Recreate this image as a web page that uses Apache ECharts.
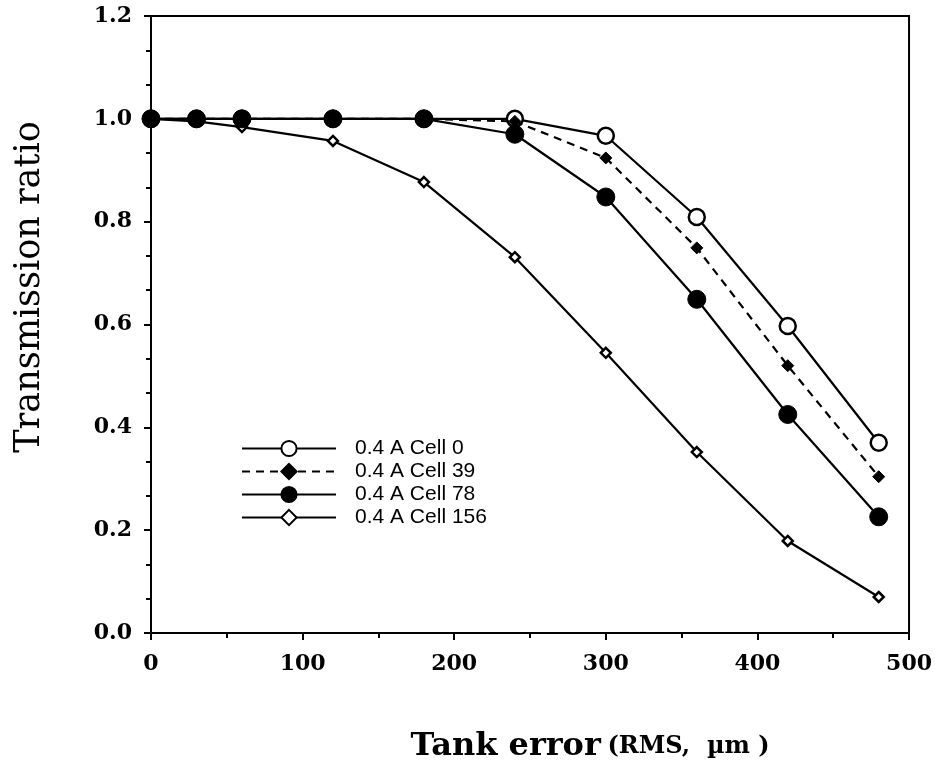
<!DOCTYPE html>
<html>
<head>
<meta charset="utf-8">
<script src="https://cdn.jsdelivr.net/npm/echarts@6/dist/echarts.min.js"></script>
<style>
  html, body { margin: 0; padding: 0; background: #fff; }
  #chart { width: 935px; height: 768px; }
</style>
</head>
<body>
<div id="chart"></div>
<script>
// tank error (RMS, um)
var tankError = [0, 30, 60, 120, 180, 240, 300, 360, 420, 480];
// transmission ratio per cell
var cell0 = [1.0, 1.0, 1.0, 1.0, 1.0, 1.0, 0.967, 0.809, 0.597, 0.370];
var cell39 = [1.0, 1.0, 1.0, 1.0, 1.0, 0.995, 0.924, 0.749, 0.520, 0.304];
var cell78 = [1.0, 1.0, 1.0, 1.0, 1.0, 0.970, 0.848, 0.649, 0.425, 0.226];
var cell156 = [1.0, 0.995, 0.984, 0.957, 0.877, 0.731, 0.545, 0.352, 0.179, 0.070];
var seriesNames = ["0.4 A Cell 0", "0.4 A Cell 39", "0.4 A Cell 78", "0.4 A Cell 156"];

function pairs(ys) {
  return tankError.map(function (x, i) { return [x, ys[i]]; });
}

var myChart = echarts.init(document.getElementById("chart"));
var serif = "DejaVu Serif";

myChart.setOption({
  animation: false,
  grid: {
    left: 151,
    right: 25,
    top: 16,
    bottom: 135,
    show: true,
    borderColor: "#000",
    borderWidth: 2
  },
  legend: {
    orient: "vertical",
    left: 236,
    top: 433,
    itemWidth: 94,
    itemHeight: 19,
    itemGap: 2,
    data: seriesNames,
    textStyle: {
      fontFamily: "Liberation Sans",
      fontSize: 21,
      lineHeight: 19,
      color: "#000",
      padding: [0, 0, 0, 14]
    }
  },
  xAxis: {
    type: "value",
    min: 0,
    max: 500,
    interval: 100,
    name: "{a|Tank error}  {b|(RMS,  µm )}",
    nameLocation: "middle",
    nameGap: 98,
    nameTextStyle: {
      padding: [0, 0, 0, 120],
      rich: {
        a: { fontFamily: serif, fontSize: 32, fontWeight: "bold", color: "#000" },
        b: { fontFamily: serif, fontSize: 24, fontWeight: "bold", color: "#000" }
      }
    },
    axisLine: { lineStyle: { color: "#000", width: 2 } },
    axisTick: { length: 7, lineStyle: { color: "#000", width: 2 } },
    minorTick: { show: true, splitNumber: 2, length: 5, lineStyle: { color: "#000", width: 2 } },
    splitLine: { show: false },
    axisLabel: {
      margin: 20,
      fontFamily: serif,
      fontWeight: "bold",
      fontSize: 22,
      color: "#000"
    }
  },
  yAxis: {
    type: "value",
    min: 0,
    max: 1.2,
    interval: 0.2,
    name: "Transmission ratio",
    nameLocation: "middle",
    nameGap: 104,
    nameTextStyle: {
      fontFamily: serif,
      fontSize: 35,
      color: "#000",
      padding: [0, 0, 0, 75]
    },
    axisLine: { lineStyle: { color: "#000", width: 2 } },
    axisTick: { length: 7, lineStyle: { color: "#000", width: 2 } },
    minorTick: { show: true, splitNumber: 3, length: 5, lineStyle: { color: "#000", width: 2 } },
    splitLine: { show: false },
    axisLabel: {
      margin: 19,
      fontFamily: serif,
      fontWeight: "bold",
      fontSize: 22,
      color: "#000",
      formatter: function (v) { return v.toFixed(1); }
    }
  },
  series: [
    {
      name: seriesNames[0],
      type: "line",
      data: pairs(cell0),
      symbol: "circle",
      symbolSize: 16,
      z: 3,
      lineStyle: { color: "#000", width: 2.2 },
      itemStyle: { color: "#fff", borderColor: "#000", borderWidth: 2.5 }
    },
    {
      name: seriesNames[1],
      type: "line",
      data: pairs(cell39),
      symbol: "diamond",
      symbolSize: 12,
      z: 4,
      lineStyle: { color: "#000", width: 2.2, type: [8, 6] },
      itemStyle: { color: "#000", borderColor: "#000", borderWidth: 1 }
    },
    {
      name: seriesNames[2],
      type: "line",
      data: pairs(cell78),
      symbol: "circle",
      symbolSize: 18,
      z: 6,
      lineStyle: { color: "#000", width: 2.2 },
      itemStyle: { color: "#000", borderColor: "#000", borderWidth: 1 }
    },
    {
      name: seriesNames[3],
      type: "line",
      data: pairs(cell156),
      symbol: "diamond",
      symbolSize: 10,
      z: 5,
      lineStyle: { color: "#000", width: 2.2 },
      itemStyle: { color: "#fff", borderColor: "#000", borderWidth: 2.5 }
    }
  ]
});
</script>
</body>
</html>
